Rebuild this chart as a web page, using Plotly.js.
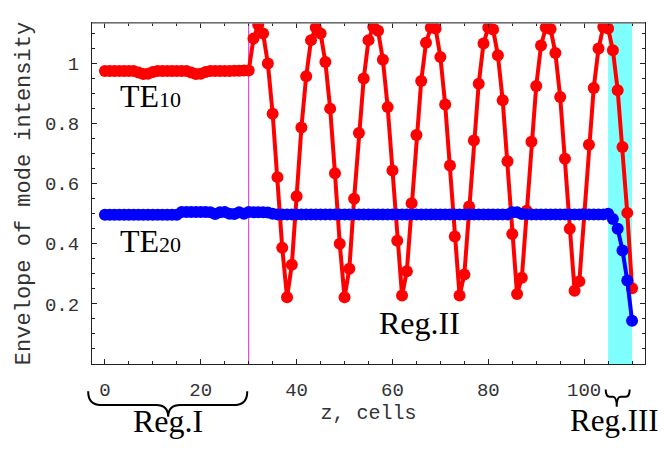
<!DOCTYPE html>
<html>
<head>
<meta charset="utf-8">
<script src="https://cdn.plot.ly/plotly-3.0.1.min.js"></script>
<style>html,body{margin:0;padding:0;background:#fff;}#chart{width:664px;height:450px;}</style>
</head>
<body>
<div id="chart"></div>
<script>
// z positions (cells)
const z = Array.from({length: 111}, (_, i) => i);

// TE10 envelope: Reg.I (z=0..30), then Reg.II/III (z=31..110)
const te10RegI = [
  0.975, 0.975, 0.975, 0.975, 0.975, 0.975, 0.975,
  0.970, 0.965, 0.966, 0.972,
  0.975, 0.975, 0.975, 0.975, 0.975, 0.975, 0.975,
  0.970, 0.965, 0.966, 0.972,
  0.975, 0.975, 0.975, 0.975, 0.975, 0.976, 0.976, 0.977, 0.977
];
const te10RegII = [
  1.083, 1.128, 1.100, 1.000, 0.833, 0.622, 0.387, 0.222, 0.330, 0.558, 0.787, 0.958,
  1.078, 1.120, 1.100, 1.005, 0.850, 0.635, 0.400, 0.222, 0.317, 0.550, 0.769, 0.950,
  1.078, 1.122, 1.109, 1.013, 0.855, 0.644, 0.410, 0.228, 0.309, 0.535, 0.762, 0.942,
  1.069, 1.120, 1.117, 1.022, 0.864, 0.661, 0.424, 0.228, 0.298, 0.524, 0.744, 0.933,
  1.067, 1.120, 1.113, 1.028, 0.878, 0.675, 0.433, 0.233, 0.287, 0.510, 0.740, 0.925,
  1.060, 1.120, 1.115, 1.035, 0.889, 0.683, 0.450, 0.244, 0.275, 0.500, 0.730, 0.919,
  1.050, 1.122, 1.117, 1.044, 0.911, 0.722, 0.503, 0.252
];

// TE20 envelope
const te20RegI = [
  0.497, 0.497, 0.497, 0.497, 0.497, 0.497, 0.497, 0.497,
  0.497, 0.497, 0.497, 0.497, 0.497, 0.497, 0.497, 0.497,
  0.506, 0.506, 0.506, 0.506, 0.506, 0.506, 0.505, 0.499,
  0.505, 0.506, 0.500, 0.499, 0.505, 0.500, 0.506
];
const te20RegII = [
  0.505, 0.505, 0.505, 0.504, 0.500,
  0.498, 0.498, 0.498, 0.498, 0.498, 0.498, 0.498, 0.498, 0.498, 0.498,
  0.498, 0.498, 0.498, 0.498, 0.498, 0.498, 0.498, 0.498, 0.498, 0.498,
  0.498, 0.498, 0.498, 0.498, 0.498, 0.498, 0.498, 0.498, 0.498, 0.498,
  0.498, 0.498, 0.498, 0.498, 0.498, 0.498, 0.498, 0.498, 0.498, 0.498,
  0.498, 0.498, 0.498, 0.498, 0.498, 0.498, 0.498, 0.498, 0.498, 0.505,
  0.505, 0.499, 0.498, 0.498, 0.498, 0.498, 0.498, 0.498, 0.498, 0.498,
  0.498, 0.498, 0.498, 0.498, 0.498, 0.498, 0.498, 0.498, 0.498,
  0.500, 0.483, 0.450, 0.378, 0.278, 0.144
];

const te10 = te10RegI.concat(te10RegII);
const te20 = te20RegI.concat(te20RegII);

// Region boundaries and labels
const regIEnd = 30;
const regIII = [105, 110];
const xTicks = [0, 20, 40, 60, 80, 100];
const yTicks = [0.2, 0.4, 0.6, 0.8, 1];
const yTickText = ['0.2', '0.4', '0.6', '0.8', '1'];

const xRange = [-2.7, 112.7];
const yRange = [0, 1.135];
const px = v => (v - xRange[0]) / (xRange[1] - xRange[0]);

function brace(x1, x2, xc, y0, y1, y2, r) {
  const a = px(x1), b = px(x2), c = px(xc);
  return `M ${a},${y0} Q ${a},${y1} ${a + r},${y1} L ${c - r},${y1} Q ${c},${y1} ${c},${y2} ` +
         `Q ${c},${y1} ${c + r},${y1} L ${b - r},${y1} Q ${b},${y1} ${b},${y0}`;
}

const mono = 'Liberation Mono, Courier New, monospace';
const serif = 'Liberation Serif, Times New Roman, serif';

const traces = [
  {x: z, y: te10, type: 'scatter', mode: 'lines+markers', name: 'TE10',
   line: {color: '#ff0000', width: 4}, marker: {color: '#ff0000', size: 12}},
  {x: z, y: te20, type: 'scatter', mode: 'lines+markers', name: 'TE20',
   line: {color: '#0000ff', width: 4}, marker: {color: '#0000ff', size: 12}}
];

const axisCommon = {
  ticks: 'inside', ticklen: 5, tickwidth: 1, tickcolor: '#222',
  showline: true, linecolor: '#222', linewidth: 1, mirror: 'ticks',
  showgrid: false, zeroline: false,
  tickfont: {family: mono, size: 19, color: '#333'}
};

const layout = {
  width: 664, height: 450,
  margin: {l: 92, r: 19, t: 23, b: 86},
  paper_bgcolor: '#fff', plot_bgcolor: '#fff',
  showlegend: false,
  xaxis: Object.assign({}, axisCommon, {
    range: xRange, tickvals: xTicks,
    minor: {ticks: 'inside', dtick: 5, tick0: 0, ticklen: 3, tickcolor: '#222'},
    ticklabelstandoff: 8,
    title: {text: 'z, cells', font: {family: mono, size: 20, color: '#333'}, standoff: 0}
  }),
  yaxis: Object.assign({}, axisCommon, {
    range: yRange, tickvals: yTicks, ticktext: yTickText,
    minor: {ticks: 'inside', dtick: 0.05, tick0: 0, ticklen: 3, tickcolor: '#222'},
    ticklabelstandoff: 8,
    title: {text: 'Envelope of mode intensity', font: {family: mono, size: 22, color: '#333'}, standoff: 8}
  }),
  shapes: [
    {type: 'rect', xref: 'x', yref: 'paper', x0: regIII[0], x1: regIII[1], y0: 0, y1: 1,
     fillcolor: '#80ffff', line: {width: 0}, layer: 'below'},
    {type: 'line', xref: 'x', yref: 'paper', x0: regIEnd, x1: regIEnd, y0: 0, y1: 1,
     line: {color: '#e020e0', width: 1}, layer: 'below'},
    {type: 'line', xref: 'paper', yref: 'paper', x0: 0, x1: 1, y0: 1, y1: 1,
     line: {color: '#888', width: 1.5}, layer: 'above'},
    {type: 'path', xref: 'paper', yref: 'paper',
     path: brace(-3.5, 29.7, 13.2, -0.08, -0.12, -0.155, 0.022), line: {color: '#000', width: 2}},
    {type: 'path', xref: 'paper', yref: 'paper',
     path: brace(104.5, 109.5, 106.8, -0.075, -0.096, -0.125, 0.007), line: {color: '#000', width: 2}}
  ],
  annotations: [
    {xref: 'x', yref: 'y', x: 2.7, y: 0.892, xanchor: 'left', yanchor: 'middle', showarrow: false,
     text: 'TE<span style="font-size:22px">10</span>', font: {family: serif, size: 32, color: '#000'}},
    {xref: 'x', yref: 'y', x: 2.7, y: 0.41, xanchor: 'left', yanchor: 'middle', showarrow: false,
     text: 'TE<span style="font-size:22px">20</span>', font: {family: serif, size: 32, color: '#000'}},
    {xref: 'x', yref: 'y', x: 65.6, y: 0.135, xanchor: 'center', yanchor: 'middle', showarrow: false,
     text: 'Reg.II', font: {family: serif, size: 32, color: '#000'}},
    {xref: 'paper', yref: 'paper', x: px(13.2), y: -0.167, xanchor: 'center', yanchor: 'middle', showarrow: false,
     text: 'Reg.I', font: {family: serif, size: 32, color: '#000'}},
    {xref: 'paper', yref: 'paper', x: px(106.4), y: -0.167, xanchor: 'center', yanchor: 'middle', showarrow: false,
     text: 'Reg.III', font: {family: serif, size: 31, color: '#000'}}
  ]
};

Plotly.newPlot('chart', traces, layout, {displayModeBar: false, staticPlot: true});
</script>
</body>
</html>
